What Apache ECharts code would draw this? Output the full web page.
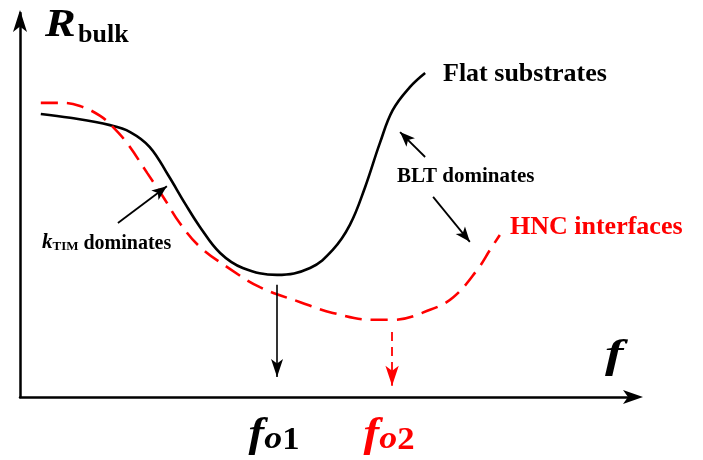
<!DOCTYPE html>
<html>
<head>
<meta charset="utf-8">
<script src="https://cdn.jsdelivr.net/npm/echarts@6/dist/echarts.min.js"></script>
<style>
  html, body { margin: 0; padding: 0; background: #fff; }
  #chart { width: 703px; height: 460px; }
</style>
</head>
<body>
<div id="chart"></div>
<script>
// Schematic: bulk thermal resistance R_bulk versus frequency f (normalised units 0-100)
const flatF = [3.4, 8.2, 14.7, 18.0, 21.2, 24.2, 27.0, 29.4, 32.7, 36.4, 42.0, 47.4, 51.1, 53.9, 56.4, 58.8, 60.9, 63.7, 66.2];
const flatR = [73.7, 72.7, 70.8, 69.0, 65.1, 57.8, 50.3, 44.3, 37.5, 33.6, 31.8, 33.6, 38.3, 44.8, 54.7, 66.1, 74.7, 80.7, 84.4];

const hncF = [3.4, 7.0, 9.8, 13.1, 15.2, 17.5, 20.8, 23.4, 26.1, 29.4, 33.8, 39.2, 45.8, 51.1, 57.7, 60.9, 67.0, 70.8, 74.7, 76.8, 78.4];
const hncR = [76.6, 76.6, 75.8, 73.2, 70.3, 66.1, 58.3, 52.1, 45.3, 39.1, 33.9, 28.6, 24.7, 21.9, 20.1, 20.1, 22.7, 26.0, 33.1, 38.3, 42.2];

// Optimum frequencies and the arrows that drop from each minimum to the f axis
const fo1 = 42.0;
const fo2 = 60.8;
const fo1Arrow = [[fo1, 29.2], [fo1, 5.2]];
const fo2Arrow = [[fo2, 16.9], [fo2, 2.9]];

// Annotation pointers: [from, to]
const kTimArrow = [[16.0, 45.3], [24.0, 54.9]];
const bltUpArrow = [[66.2, 62.5], [62.1, 69.0]];
const bltDownArrow = [[67.5, 52.1], [73.5, 40.4]];

const SERIF = "'Liberation Serif', 'Times New Roman', Times, serif";
const RED = '#ff0000';

const zip = (xs, ys) => xs.map((x, i) => [x, ys[i]]);

function arrowLine(pair, color, width, size, dashed) {
  return [
    { coord: pair[0], symbol: 'none',
      lineStyle: { color: color, width: width, type: dashed ? [9, 6] : 'solid' } },
    { coord: pair[1], symbol: 'arrow', symbolSize: size }
  ];
}

const chart = echarts.init(document.getElementById('chart'), null, { renderer: 'canvas' });

const axisCommon = {
  type: 'value', min: 0, max: 100,
  axisTick: { show: false }, axisLabel: { show: false }, splitLine: { show: false }
};

chart.setOption({
  animation: false,
  backgroundColor: '#fff',
  grid: { left: 20, right: 71, top: 13, bottom: 63 },
  xAxis: Object.assign({}, axisCommon, {
    axisLine: { show: true, onZero: false, lineStyle: { color: '#000', width: 2.5 },
      symbol: ['none', 'arrow'], symbolSize: [10.5, 20], symbolOffset: [0, 11] }
  }),
  yAxis: Object.assign({}, axisCommon, {
    axisLine: { show: true, onZero: false, lineStyle: { color: '#000', width: 2.5 },
      symbol: ['none', 'arrow'], symbolSize: [10.5, 22], symbolOffset: [0, 3] }
  }),
  series: [
    {
      name: 'Flat substrates', type: 'line', data: zip(flatF, flatR),
      smooth: 0.4, showSymbol: false, silent: true,
      lineStyle: { color: '#000', width: 2.6 }
    },
    {
      name: 'HNC interfaces', type: 'line', data: zip(hncF, hncR),
      smooth: 0.4, showSymbol: false, silent: true,
      lineStyle: { color: RED, width: 2.6, type: [17, 9] }
    },
    {
      name: 'pointers', type: 'line', data: [], silent: true,
      markLine: {
        silent: true, animation: false, label: { show: false },
        symbol: ['none', 'arrow'],
        data: [
          arrowLine(fo1Arrow, '#000', 1.6, [9, 18], false),
          arrowLine(fo2Arrow, RED, 1.8, [10, 20], true),
          arrowLine(kTimArrow, '#000', 1.8, [9, 15], false),
          arrowLine(bltUpArrow, '#000', 1.8, [9, 15], false),
          arrowLine(bltDownArrow, '#000', 1.8, [9, 15], false)
        ]
      }
    }
  ]
});

const px = (p) => chart.convertToPixel({ gridIndex: 0 }, p);
const baseX = px([fo1, 0]);
const baseX2 = px([fo2, 0]);

const foRich = (color) => ({
  f: { font: 'italic bold 42px ' + SERIF, fill: color, verticalAlign: 'bottom' },
  o: { font: 'italic bold 32px ' + SERIF, fill: color, verticalAlign: 'bottom' },
  n: { font: 'bold 31px ' + SERIF, fill: color, verticalAlign: 'bottom' }
});

chart.setOption({
  graphic: [
    { type: 'text', x: 45, y: 26, silent: true, scaleX: 1.15,
      style: { text: 'R', font: 'italic bold 40px ' + SERIF, fill: '#000', align: 'left', verticalAlign: 'middle' } },
    { type: 'text', x: 78, y: 35, silent: true,
      style: { text: 'bulk', font: 'bold 26px ' + SERIF, fill: '#000', align: 'left', verticalAlign: 'middle' } },
    { type: 'text', x: 605, y: 356, silent: true, scaleX: 1.35,
      style: { text: 'f', font: 'italic bold 41px ' + SERIF, fill: '#000', align: 'left', verticalAlign: 'middle' } },
    { type: 'text', x: 443, y: 74, silent: true,
      style: { text: 'Flat substrates', font: 'bold 26px ' + SERIF, fill: '#000', align: 'left', verticalAlign: 'middle' } },
    { type: 'text', x: 510, y: 227, silent: true,
      style: { text: 'HNC interfaces', font: 'bold 26px ' + SERIF, fill: RED, align: 'left', verticalAlign: 'middle' } },
    { type: 'text', x: 397, y: 177, silent: true,
      style: { text: 'BLT dominates', font: 'bold 21px ' + SERIF, fill: '#000', align: 'left', verticalAlign: 'middle' } },
    { type: 'text', x: 42, y: 243, silent: true,
      style: {
        text: '{k|k}{s|TIM}{d| dominates}', align: 'left', verticalAlign: 'middle',
        rich: {
          k: { font: 'italic bold 21px ' + SERIF, fill: '#000', verticalAlign: 'bottom' },
          s: { font: 'bold 13px ' + SERIF, fill: '#000', verticalAlign: 'bottom' },
          d: { font: 'bold 20px ' + SERIF, fill: '#000', verticalAlign: 'bottom' }
        }
      } },
    { type: 'text', x: baseX[0] - 3, y: 435, silent: true, scaleX: 1.12,
      style: { text: '{f|f}{o|o}{n|1}', align: 'center', verticalAlign: 'middle', rich: foRich('#000') } },
    { type: 'text', x: baseX2[0] - 3, y: 435, silent: true, scaleX: 1.12,
      style: { text: '{f|f}{o|o}{n|2}', align: 'center', verticalAlign: 'middle', rich: foRich(RED) } }
  ]
});
</script>
</body>
</html>
